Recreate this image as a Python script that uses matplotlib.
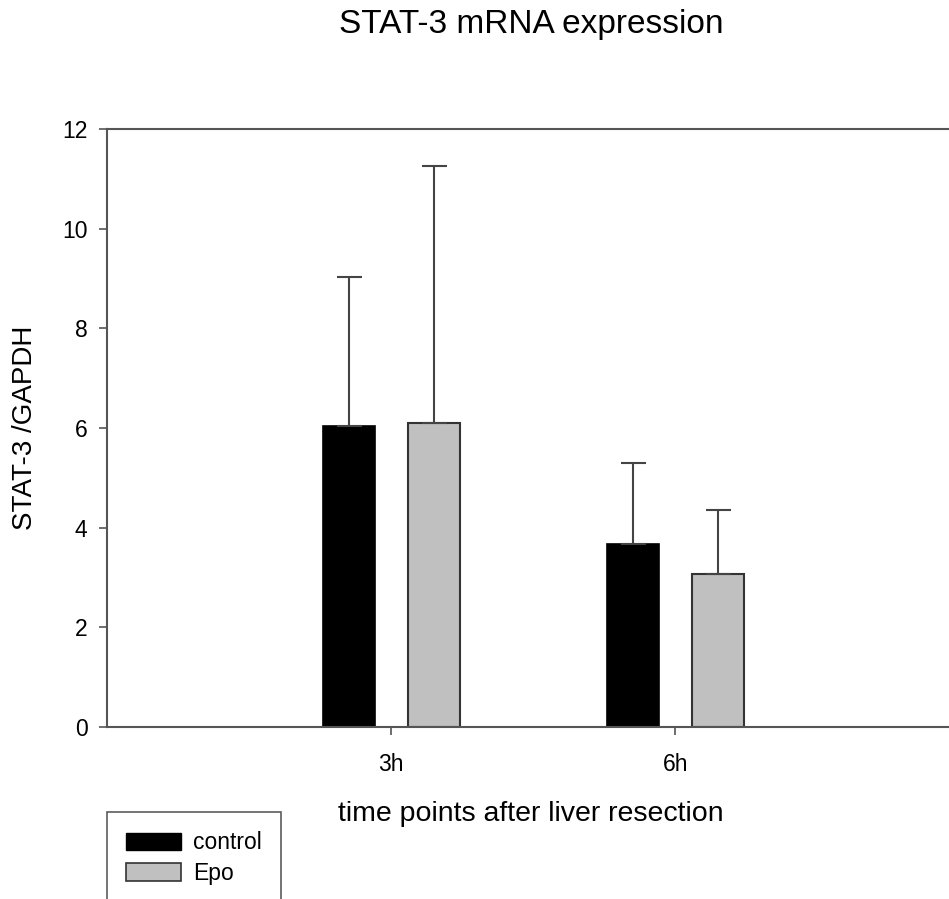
import numpy as np
import matplotlib.pyplot as plt
from matplotlib.patches import Patch

plt.rcParams['font.family'] = ['Liberation Sans', 'DejaVu Sans']

# STAT-3 / GAPDH ratio, mean and upper error
time_points = ['3h', '6h']
control_mean = [6.04, 3.67]
control_err = [3.00, 1.63]
epo_mean = [6.10, 3.08]
epo_err = [5.16, 1.28]

axis_color = '#555555'
err_color = '#444444'

fig = plt.figure(figsize=(9.49, 8.99), dpi=100)
ax = fig.add_axes([0.1128, 0.1913, 0.8984, 0.6652])

x = np.arange(1, len(time_points) + 1)
offset = 0.15
width = 0.183

err_kw = dict(ecolor=err_color, elinewidth=1.5, capsize=9, capthick=1.5)
ax.bar(x - offset, control_mean, width, color='black', edgecolor='black', linewidth=1.2,
       yerr=[np.zeros(len(x)), control_err], error_kw=err_kw, zorder=2)
ax.bar(x + offset, epo_mean, width, color='#c0c0c0', edgecolor='#333333', linewidth=1.5,
       yerr=[np.zeros(len(x)), epo_err], error_kw=err_kw, zorder=2)

ax.set_xlim(0, 3)
ax.set_ylim(0, 12)
ax.set_yticks(np.arange(0, 13, 2))
ax.set_xticks(x)
ax.set_xticklabels(time_points)

for side in ['left', 'top', 'bottom']:
    ax.spines[side].set_color(axis_color)
    ax.spines[side].set_linewidth(1.5)
ax.spines['right'].set_visible(False)
ax.tick_params(axis='both', direction='out', length=6, width=1.2, color=axis_color,
               labelsize=16.5)
ax.tick_params(axis='y', pad=8)
ax.tick_params(axis='x', pad=13)

fig.text(531 / 949, 1 - 24 / 899, 'STAT-3 mRNA expression', fontsize=24,
         ha='center', va='center')
fig.text(531 / 949, 1 - 821 / 899, 'time points after liver resection', fontsize=20.5,
         ha='center', va='baseline')
fig.text(25 / 949, 1 - 428 / 899, 'STAT-3 /GAPDH', fontsize=20, rotation=90,
         ha='center', va='center')

handles = [Patch(facecolor='black', edgecolor='black', label='control'),
           Patch(facecolor='#c0c0c0', edgecolor='#333333', linewidth=1.2, label='Epo')]
leg = fig.legend(handles=handles, loc='upper left', bbox_to_anchor=(107 / 949, 1 - 812 / 899),
                 fontsize=16.5, frameon=True, fancybox=False, handlelength=2.4,
                 handleheight=0.8, handletextpad=0.5, labelspacing=0.32,
                 borderpad=0.85, borderaxespad=0)
leg.get_frame().set_edgecolor('#333333')
leg.get_frame().set_linewidth(1.2)

fig.savefig('out.png', dpi=100)
